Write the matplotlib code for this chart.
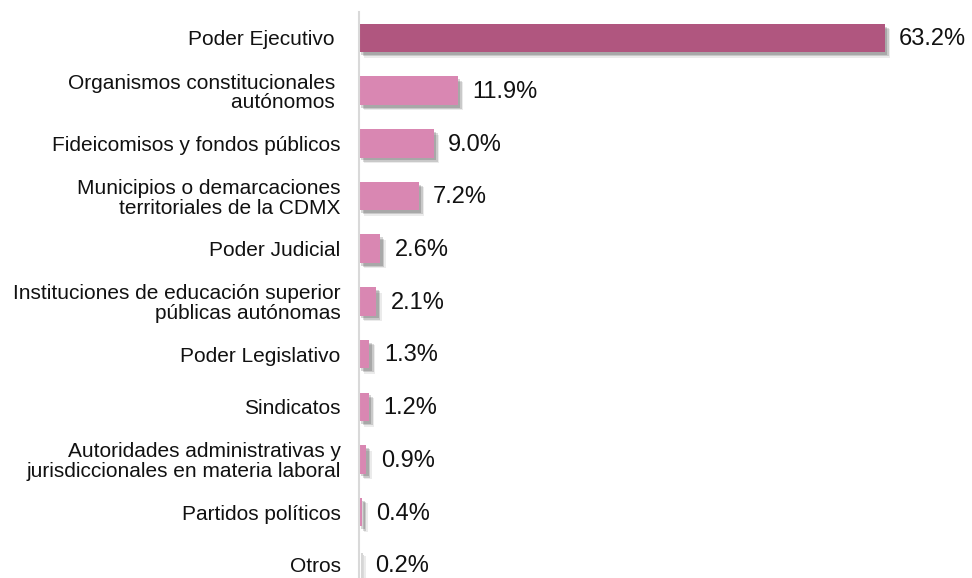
import matplotlib.pyplot as plt
import matplotlib.patheffects as pe

plt.rcParams['font.family'] = ['Liberation Sans', 'DejaVu Sans']

# datos
categorias = [
    'Poder Ejecutivo ',
    'Organismos constitucionales \nautónomos ',
    'Fideicomisos y fondos públicos',
    'Municipios o demarcaciones\nterritoriales de la CDMX',
    'Poder Judicial',
    'Instituciones de educación superior\npúblicas autónomas',
    'Poder Legislativo',
    'Sindicatos',
    'Autoridades administrativas y\njurisdiccionales en materia laboral',
    'Partidos políticos',
    'Otros',
]
valores = [63.2, 11.9, 9.0, 7.2, 2.6, 2.1, 1.3, 1.2, 0.9, 0.4, 0.2]
etiquetas = ['63.2%', '11.9%', '9.0%', '7.2%', '2.6%', '2.1%', '1.3%', '1.2%',
             '0.9%', '0.4%', '0.2%']

color_principal = '#B0567F'
color_resto = '#D987B2'
colores = [color_principal] + [color_resto] * (len(valores) - 1)

fig = plt.figure(figsize=(9.72, 5.78), dpi=100)
ax = fig.add_axes([0.369, 0.0, 0.631, 0.979])

pos = list(range(len(valores)))

# sombra difusa
sombra = [
    pe.SimplePatchShadow(offset=(4, -4), shadow_rgbFace='#000000', alpha=0.08),
    pe.SimplePatchShadow(offset=(3, -3), shadow_rgbFace='#000000', alpha=0.14),
    pe.SimplePatchShadow(offset=(2, -2), shadow_rgbFace='#000000', alpha=0.16),
    pe.Normal(),
]

barras = ax.barh(pos, valores, height=0.54, color=colores, linewidth=0)
for b in barras:
    b.set_path_effects(sombra)

for y, v, t in zip(pos, valores, etiquetas):
    ax.annotate(t, xy=(v, y), xytext=(10.5, -1), textcoords='offset points',
                ha='left', va='center', fontsize=17, color='#111111')

ax.set_yticks(pos)
ax.set_yticklabels(categorias, fontsize=15, linespacing=1.05, color='#111111')
ax.tick_params(axis='y', length=0, pad=13)
ax.set_xticks([])
ax.set_xlim(0, 73.7)
ax.set_ylim(10.25, -0.49)

for s in ['top', 'right', 'bottom']:
    ax.spines[s].set_visible(False)
ax.spines['left'].set_color('#D9D9D9')
ax.spines['left'].set_linewidth(1.5)

fig.savefig('out.png', dpi=100)
